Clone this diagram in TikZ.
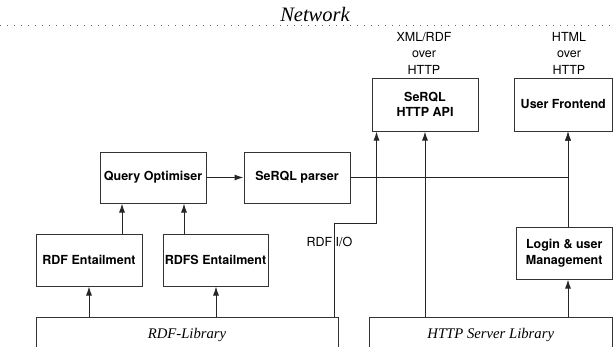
\documentclass[tikz,border=0pt]{standalone}
\usepackage{fontspec}
\setmainfont{Liberation Serif}
\setsansfont{TeX Gyre Heros}
\usetikzlibrary{arrows.meta}

\tikzset{
  block/.style={draw=black!80, line width=1pt, rectangle, inner sep=0pt, align=center,
    font=\sffamily\bfseries\fontsize{12.5}{15.5}\selectfont},
  libbox/.style={draw=black!80, line width=1pt, rectangle, anchor=north, inner sep=0pt,
    text height=21pt, text depth=40pt, font=\itshape\fontsize{14.7}{17}\selectfont},
  proto/.style={align=center, inner sep=0pt, font=\sffamily\fontsize{12.5}{16.5}\selectfont},
  wire/.style={line width=1pt, draw=black!85},
}

\begin{document}
\begin{tikzpicture}[x=1pt, y=-1pt, >={Latex[length=9pt,width=6pt]}]
                \useasboundingbox (0,0) rectangle (613,346);
                \clip (0,0) rectangle (613,346);

                % the network border
                \draw[black!60, line width=0.9pt, dash pattern=on 0.9pt off 6.1pt] (0,25) -- (613,25);
                \node[anchor=base, inner sep=0pt, font=\itshape\fontsize{20.5}{24}\selectfont] (net) at (315,21) {Network};

                % protocols over the network
                \node[proto] (xmlrdf) at (424,53) {XML/RDF\\over\\HTTP};
                \node[proto] (html) at (569,53) {HTML\\over\\HTTP};

                % the modules
                \node[block, minimum width=106, minimum height=53] (api) at (425,104.5) {SeRQL\\HTTP API};
                \node[block, minimum width=98.5, minimum height=53] (front) at (563.25,104.5) {User Frontend};
                \node[block, minimum width=106, minimum height=51] (opt) at (153,177.5) {Query Optimiser};
                \node[block, minimum width=106, minimum height=51] (parser) at (297,177.5) {SeRQL parser};
                \node[block, minimum width=106, minimum height=52] (rdfent) at (89,260) {RDF Entailment};
                \node[block, minimum width=105, minimum height=52] (rdfsent) at (215.5,260) {RDFS Entailment};
                \node[block, minimum width=96.5, minimum height=52] (login) at (564.25,253) {Login \& user\\Management};

                % the libraries at the bottom
                \node[libbox, minimum width=302] (rdflib) at (187,317) {RDF-Library};
                \node[libbox, minimum width=243.5] (httplib) at (490.75,317) {HTTP Server Library};

                % connection points
                \coordinate (optin1) at ([xshift=-31pt]opt.south);
                \coordinate (optin2) at ([xshift=31pt]opt.south);
                \coordinate (frontin) at ([xshift=4.75pt]front.south);
                \coordinate (apiin) at ([xshift=5pt]api.south west);
                \coordinate (rdfio) at ([xshift=-4pt]rdflib.north east);

                % draw the connectors
                \draw[wire, ->] (rdfent.south |- rdflib.north) -- (rdfent.south);
                \draw[wire, ->] ([xshift=0.5pt]rdfsent.south |- rdflib.north) -- ([xshift=0.5pt]rdfsent.south);
                \draw[wire, ->] (optin1 |- rdfent.north) -- (optin1);
                \draw[wire, ->] (optin2 |- rdfsent.north) -- (optin2);
                \draw[wire, ->] (opt.east) -- (parser.west);
                \draw[wire, ->] (parser.east) -| (frontin);
                \draw[wire, ->] (api.south |- httplib.north) -- (api.south);
                \draw[wire, ->] (frontin |- login.north) -- (frontin);
                \draw[wire, ->] (frontin |- httplib.north) -- (frontin |- login.south);
                \draw[wire, ->] (rdfio) -- ++(0,-94) -| (apiin);

                \node[proto] (iolabel) at (329.5,242) {RDF I/O};
            \end{tikzpicture}
\end{document}
